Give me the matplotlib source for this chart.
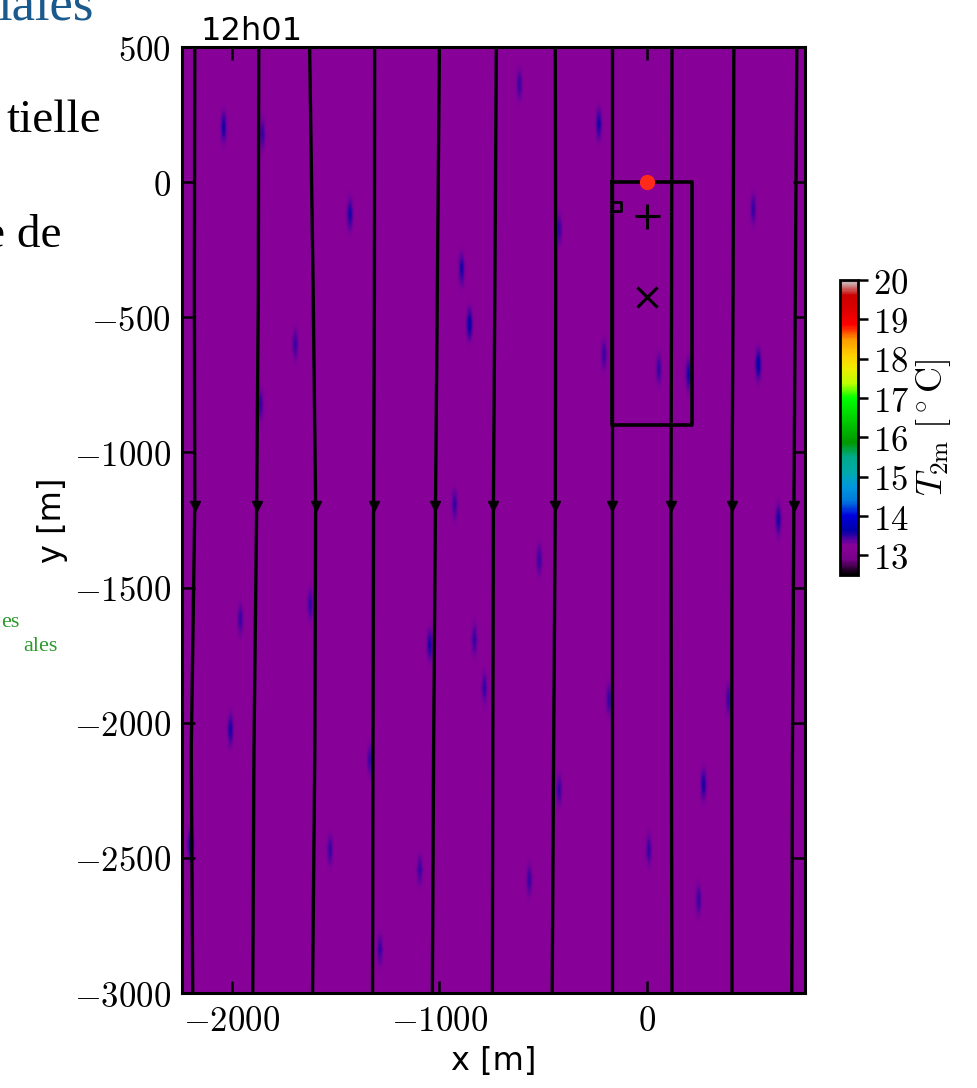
import matplotlib as mpl

mpl.use("Agg")
import matplotlib.pyplot as plt
import numpy as np
from matplotlib.ticker import FixedLocator, FuncFormatter

plt.rcParams["mathtext.fontset"] = "cm"

# 2 m temperature field: background value plus small warm streaks (x [m], y [m], T [degC])
T_BASE = 13.25
SPECKLE_X = [-2043, -1856, -1697, -1433, -894, -856, -615, -423, -231, -207,
             58, 202, 514, 538, 274, -1962, -1625, -1048, -832, -423,
             -784, -2010, -1337, -567, -2202, 10, 250, -1288, 635, -1865,
             -928, -519, -183, 394, -1529, -1096]
SPECKLE_Y = [200, 174, -604, -122, -326, -530, 359, -178, 211, -641,
             -696, -715, -104, -678, -2233, -1622, -1567, -1715, -1696, -2252,
             -1874, -2030, -2141, -2585, -2456, -2474, -2659, -2844, -1252, -826,
             -1196, -1400, -1919, -1919, -2474, -2548]
SPECKLE_T = [13.6, 13.5, 13.5, 13.6, 13.6, 13.7, 13.5, 13.5, 13.6, 13.5,
             13.5, 13.6, 13.5, 13.7, 13.6, 13.5, 13.5, 13.6, 13.5, 13.5,
             13.5, 13.6, 13.5, 13.5, 13.7, 13.5, 13.5, 13.5, 13.6, 13.5,
             13.5, 13.5, 13.5, 13.5, 13.5, 13.5]

# streamlines: x position [m] at each of the y levels below
STREAM_Y = [500, -400, -1200, -2100, -3000]
STREAM_X = [
    [-2178, -2180, -2178, -2195, -2188],
    [-1870, -1872, -1880, -1893, -1899],
    [-1625, -1608, -1596, -1600, -1611],
    [-1312, -1313, -1317, -1320, -1322],
    [-1000, -1010, -1019, -1028, -1034],
    [-726, -733, -740, -743, -745],
    [-442, -440, -442, -450, -457],
    [-168, -168, -168, -168, -168],
    [120, 118, 115, 117, 120],
    [418, 414, 409, 408, 409],
    [721, 714, 707, 700, 697],
]
ARROW_Y = -1200

# footprint outline and small annex, sensor positions
BOX_X = [-168, 215, 215, -168, -168]
BOX_Y = [0, 0, -900, -900, 0]
ANNEX_X = [-168, -125, -125, -168]
ANNEX_Y = [-75, -75, -105, -105]
SOURCE = (0, 0)
PLUS = (0, -125)
CROSS = (0, -425)

XLIM = (-2240, 760)
YLIM = (-3000, 500)
VMIN, VMAX = 12.5, 20

# build the gridded field
xg = np.arange(XLIM[0], XLIM[1] + 1, 8.0)
yg = np.arange(YLIM[0], YLIM[1] + 1, 8.0)
X, Y = np.meshgrid(xg, yg)
field = np.full(X.shape, T_BASE)
for sx, sy, st in zip(SPECKLE_X, SPECKLE_Y, SPECKLE_T):
    blob = np.exp(-((X - sx) / 12.0) ** 2 - ((Y - sy) / 50.0) ** 2)
    field += (st - T_BASE) * blob

fig = plt.figure(figsize=(9.78, 10.88), dpi=100)
ax = fig.add_axes([0.186, 0.0873, 0.637, 0.8695])
im = ax.imshow(field, origin="lower", extent=(*XLIM, *YLIM), aspect="auto",
               cmap="nipy_spectral", vmin=VMIN, vmax=VMAX, interpolation="bilinear")

for xs in STREAM_X:
    ax.plot(xs, STREAM_Y, color="black", lw=2.4)
    xa = np.interp(-ARROW_Y, [-v for v in STREAM_Y], xs)
    ax.plot([xa], [ARROW_Y], marker="v", color="black", ms=7, lw=0)

ax.plot(BOX_X, BOX_Y, color="black", lw=2.6)
ax.plot(ANNEX_X, ANNEX_Y, color="black", lw=2.0)
ax.plot(*PLUS, marker="+", color="black", ms=18, mew=2.2)
ax.plot(*CROSS, marker="x", color="black", ms=14, mew=2.2)
ax.plot(*SOURCE, marker="o", color="#ff2a1a", ms=11, mec="none")

ax.set_xlim(XLIM)
ax.set_ylim(YLIM)
ax.xaxis.set_major_locator(FixedLocator([-2000, -1000, 0]))
ax.yaxis.set_major_locator(FixedLocator(np.arange(-3000, 501, 500)))
math_fmt = FuncFormatter(lambda v, p: f"${v:.0f}$")
ax.xaxis.set_major_formatter(math_fmt)
ax.yaxis.set_major_formatter(math_fmt)
ax.tick_params(direction="in", top=True, right=True, length=9, width=1.8,
               labelsize=25, pad=8)
for sp in ax.spines.values():
    sp.set_linewidth(2.2)
ax.set_xlabel("x [m]", fontsize=23, labelpad=6)
ax.set_ylabel("y [m]", fontsize=23, labelpad=4)
fig.text(200 / 978, 1 - 40 / 1088, "12h01", fontsize=23, ha="left", va="baseline")

cax = fig.add_axes([0.859, 0.4715, 0.0184, 0.271])
cb = fig.colorbar(im, cax=cax, ticks=np.arange(13, 21))
cb.ax.yaxis.set_major_formatter(FuncFormatter(lambda v, p: f"${v:.0f}$"))
cb.ax.tick_params(labelsize=25, width=1.8, length=7)
cb.outline.set_linewidth(2.0)
cb.set_label(r"$T_{\rm 2m}\ [^\circ{\rm C}]$", fontsize=26, labelpad=4)

# slide text around the figure
serif = ["Liberation Serif", "DejaVu Serif"]
fig.text(94 / 978, 1 - 20 / 1088, "iales", fontsize=38, color="#1b5a8c",
         family=serif, ha="right", va="baseline")
fig.text(101 / 978, 1 - 132 / 1088, "tielle", fontsize=34, color="black",
         family=serif, ha="right", va="baseline")
fig.text(62 / 978, 1 - 247 / 1088, "e de", fontsize=34, color="black",
         family=serif, ha="right", va="baseline")
fig.text(19 / 978, 1 - 627 / 1088, "es", fontsize=16, color="#2e9a2e",
         family=serif, ha="right", va="baseline")
fig.text(58 / 978, 1 - 651 / 1088, "ales", fontsize=16, color="#2e9a2e",
         family=serif, ha="right", va="baseline")

fig.savefig("out.png", dpi=100)
